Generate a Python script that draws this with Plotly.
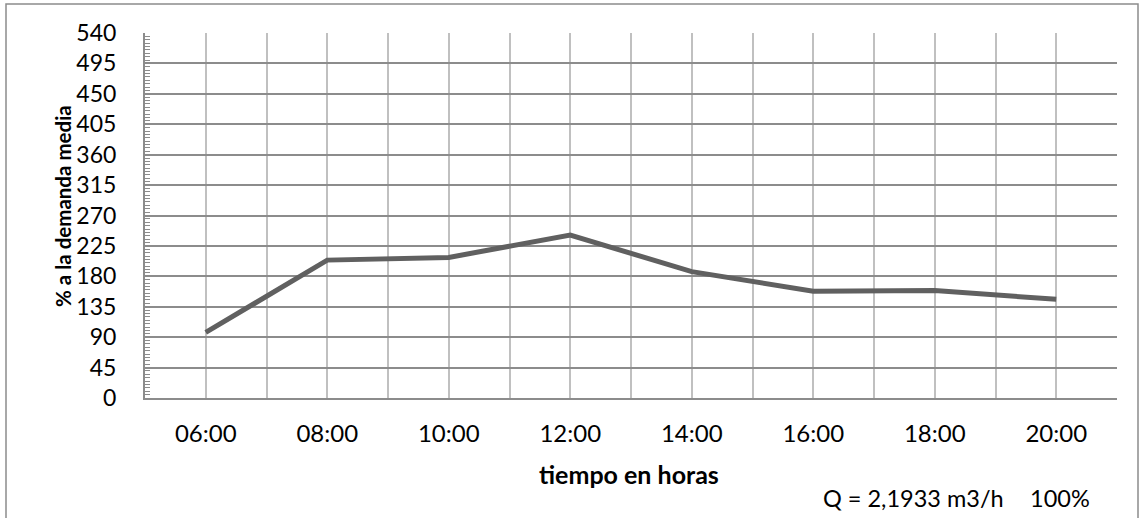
import plotly.graph_objects as go

hours = ["06:00", "08:00", "10:00", "12:00", "14:00", "16:00", "18:00", "20:00"]
demand_pct = [97, 204, 208, 241, 187, 158, 159, 146]
y_ticks = [0, 45, 90, 135, 180, 225, 270, 315, 360, 405, 450, 495, 540]

FONT = "Lato"
W, H = 1144, 518
# target pixel positions of the plot area
PL, PR, PT, PB = 145, 1117, 33, 398
L, T = PL, PT
R = W - PR
B = H - PB
pw, ph = W - L - R, H - T - B

def px_x(px):
    return (px - L) / pw

def px_y(py):
    return (H - B - py) / ph

xs = list(range(len(hours)))
minor_x = [i - 0.5 for i in range(len(hours) + 1)]

fig = go.Figure()
fig.add_trace(go.Scatter(
    x=xs, y=demand_pct, mode="lines",
    line=dict(color="#606060", width=5),
    showlegend=False, hoverinfo="skip",
))

fig.update_layout(
    width=W, height=H,
    margin=dict(l=L, r=R, t=T, b=B, autoexpand=False),
    paper_bgcolor="white", plot_bgcolor="white",
    font=dict(family=FONT, color="#000000"),
    xaxis=dict(
        range=[-0.5, len(hours) - 0.5],
        tickmode="array", tickvals=xs, ticktext=hours,
        tickfont=dict(size=24, family=FONT),
        showgrid=True, gridcolor="#C0C0C0", gridwidth=1.5,
        minor=dict(tickmode="array", tickvals=minor_x, showgrid=True,
                   gridcolor="#C0C0C0", gridwidth=1.5),
        showline=True, linecolor="#8C8C8C", linewidth=2,
        ticks="", zeroline=False, ticklabelstandoff=13,
        automargin=False, fixedrange=True,
    ),
    yaxis=dict(
        range=[0, 540],
        tickmode="array", tickvals=y_ticks,
        tickfont=dict(size=23, family=FONT),
        showgrid=True, gridcolor="#8C8C8C", gridwidth=1.5,
        showline=True, linecolor="#8C8C8C", linewidth=2,
        ticks="inside", ticklen=7, tickcolor="#8C8C8C", tickwidth=1.5,
        minor=dict(dtick=5, tick0=0, ticks="inside", ticklen=5,
                   tickcolor="#8C8C8C", tickwidth=1, showgrid=False),
        zeroline=False, ticklabelstandoff=22,
        automargin=False, fixedrange=True,
    ),
    shapes=[dict(
        type="rect", xref="paper", yref="paper",
        x0=px_x(6), x1=px_x(1138), y0=px_y(560), y1=px_y(4),
        line=dict(color="#8C8C8C", width=1.5), fillcolor="rgba(0,0,0,0)",
        layer="below",
    )],
    annotations=[
        dict(text="<b>% a la demanda media</b>", textangle=-90,
             xref="paper", yref="paper", x=px_x(63), y=px_y(206),
             xanchor="center", yanchor="middle", showarrow=False,
             font=dict(size=20.5, family=FONT, color="#000000")),
        dict(text="<b>tiempo en horas</b>",
             xref="paper", yref="paper", x=px_x(629), y=px_y(474),
             xanchor="center", yanchor="middle", showarrow=False,
             font=dict(size=25, family=FONT, color="#000000")),
        dict(text="Q = 2,1933 m3/h", xref="paper", yref="paper",
             x=px_x(821), y=px_y(498), xanchor="left", yanchor="middle",
             showarrow=False, font=dict(size=23.5, family=FONT, color="#000000")),
        dict(text="100%", xref="paper", yref="paper",
             x=px_x(1092), y=px_y(498), xanchor="right", yanchor="middle",
             showarrow=False, font=dict(size=23.5, family=FONT, color="#000000")),
    ],
)

fig.write_html(
    "out.html",
    config={"displayModeBar": False},
    post_script="document.body.style.margin='0';document.body.style.overflow='hidden';",
)
